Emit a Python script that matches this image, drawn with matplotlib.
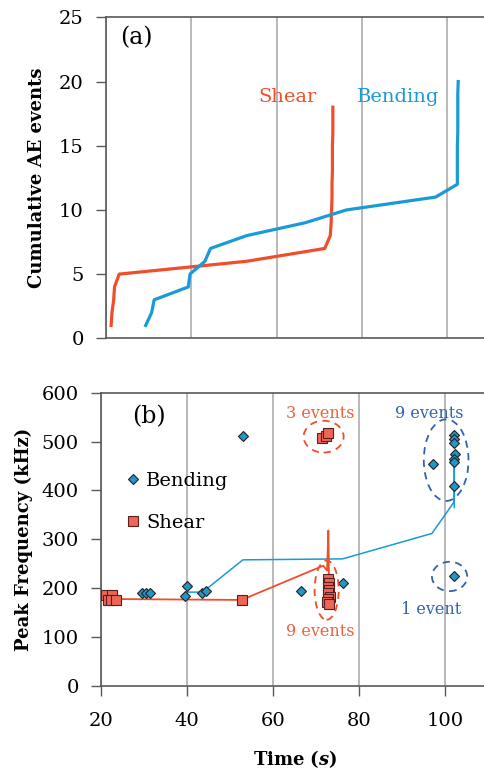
import matplotlib
matplotlib.use("Agg")
import matplotlib.pyplot as plt
from matplotlib.patches import Ellipse

# ─── Dati ─────────────────────────────────────────────────────────────────────
# (a) eventi AE cumulati
shear_cum_t = [21.2, 21.4, 21.8, 22.0, 23.1, 53.0, 71.3, 72.6, 72.8, 72.9,
               73.0, 73.0, 73.1, 73.1, 73.1, 73.2, 73.2, 73.2]
shear_cum_n = list(range(1, 19))
bend_cum_t = [29.3, 30.7, 31.3, 39.3, 39.7, 43.2, 44.5, 53.0, 66.7, 76.4,
              97.3, 102.4, 102.4, 102.4, 102.4, 102.5, 102.5, 102.5, 102.5, 102.6]
bend_cum_n = list(range(1, 21))

# (b) frequenza di picco
bend_t = [29.5, 30.5, 31.3, 39.5, 40.0, 43.5, 44.5, 53.0, 66.5, 76.2, 97.2,
          102.1, 102.1, 102.2, 102.3, 102.1, 102.2, 102.1, 102.2]
bend_f = [190, 190, 190, 185, 205, 190, 195, 512, 195, 210, 454,
          513, 506, 498, 475, 464, 459, 409, 224]
shear_t = [21.2, 22.5, 21.6, 22.3, 23.5, 52.7,
           71.5, 72.3, 72.9,
           72.8, 73.0, 72.7, 73.1, 72.9, 73.2, 72.8, 72.6, 73.0]
shear_f = [186, 186, 176, 176, 175, 175,
           507, 512, 517,
           219, 210, 203, 197, 190, 183, 178, 172, 168]

# linee di tendenza (media mobile)
bend_trend_t = [39.9, 43.0, 44.5, 53.0, 76.2, 97.0, 102.2, 102.2, 102.2]
bend_trend_f = [192, 192, 198, 258, 260, 312, 377, 472, 365]
shear_trend_t = [21.0, 52.7, 71.7, 72.6, 72.9, 73.0, 73.1]
shear_trend_f = [178, 176, 246, 236, 318, 250, 180]

RED = "#F04E2A"
BLUE = "#1A9AD7"
RED_TXT = "#F0603C"
BLUE_TXT = "#2E64B0"
SPINE = "#595959"
GRID = "#B3B3B3"

plt.rcParams["font.family"] = "DejaVu Serif"
plt.rcParams["mathtext.fontset"] = "custom"
plt.rcParams["mathtext.it"] = "DejaVu Serif:bold:italic"
plt.rcParams["mathtext.rm"] = "DejaVu Serif:bold"

fig = plt.figure(figsize=(4.84, 7.74), dpi=100)
ax1 = fig.add_axes([0.219, 0.5629, 0.881, 0.4147])
ax2 = fig.add_axes([0.2087, 0.1137, 0.888, 0.379])

for ax in (ax1, ax2):
    ax.set_xlim(20, 120)
    ax.set_xticks([20, 40, 60, 80, 100])
    ax.grid(axis="x", color=GRID, lw=1.3)
    ax.set_axisbelow(True)
    for s in ax.spines.values():
        s.set_color(SPINE)
        s.set_linewidth(1.2)
    ax.tick_params(labelsize=14, color=SPINE, length=7, width=1)
    ax.tick_params(axis="y", pad=9)
ax2.tick_params(axis="x", pad=12)

# ─── (a) ──────────────────────────────────────────────────────────────────────
ax1.plot(shear_cum_t, shear_cum_n, color=RED, lw=2.3)
ax1.plot(bend_cum_t, bend_cum_n, color=BLUE, lw=2.3)
ax1.set_ylim(0, 25)
ax1.set_yticks([0, 5, 10, 15, 20, 25])
ax1.tick_params(axis="x", length=0, labelbottom=False)
ax1.set_ylabel("Cumulative AE events", fontsize=13, fontweight="bold")
ax1.yaxis.set_label_coords(-0.14, 0.5)
ax1.text(27.2, 23.4, "(a)", fontsize=17, ha="center", va="center")
ax1.text(62.5, 18.8, "Shear", color=RED, fontsize=14, ha="center", va="center")
ax1.text(88.5, 18.8, "Bending", color=BLUE, fontsize=14, ha="center", va="center")

# ─── (b) ──────────────────────────────────────────────────────────────────────
ax2.plot(bend_trend_t, bend_trend_f, color=BLUE, lw=1.1, zorder=2)
ax2.plot(shear_trend_t, shear_trend_f, color=RED, lw=1.3, zorder=2)
ax2.plot(bend_t, bend_f, ls="none", marker="D", ms=5.5, mfc="#1F97C9",
         mec="#222222", mew=0.8, label="Bending", zorder=3)
ax2.plot(shear_t, shear_f, ls="none", marker="s", ms=6.5, mfc="#EE6656",
         mec="#5A1E1E", mew=0.8, label="Shear", zorder=3)
ax2.set_ylim(0, 600)
ax2.set_yticks(range(0, 601, 100))
ax2.set_ylabel("Peak Frequency (kHz)", fontsize=13, fontweight="bold")
ax2.yaxis.set_label_coords(-0.158, 0.5)
ax2.set_xlabel(r"Time ($s$)", fontsize=13, fontweight="bold")
ax2.xaxis.set_label_coords(0.451, -0.212)
ax2.text(31.2, 550, "(b)", fontsize=17, ha="center", va="center")
ax2.legend(loc="upper left", bbox_to_anchor=(0.01, 0.79), frameon=False,
           fontsize=14, handletextpad=0.2, labelspacing=1.25, handlelength=1.0)

for (cx, cy, w, h, col) in [(71.8, 510, 9.3, 65, RED), (72.5, 196, 5.6, 121, RED),
                            (100.3, 462, 10.4, 167, BLUE_TXT), (101.1, 224, 8.2, 60, BLUE_TXT)]:
    ax2.add_patch(Ellipse((cx, cy), w, h, fill=False, ec=col, ls=(0, (4, 3)), lw=1.3, zorder=4))

ax2.text(71.0, 558, "3 events", color=RED_TXT, fontsize=11.5, ha="center", va="center")
ax2.text(71.0, 111, "9 events", color=RED_TXT, fontsize=11.5, ha="center", va="center")
ax2.text(96.3, 558, "9 events", color=BLUE_TXT, fontsize=11.5, ha="center", va="center")
ax2.text(96.7, 157, "1 event", color=BLUE_TXT, fontsize=11.5, ha="center", va="center")

fig.savefig("out.png", dpi=100)
